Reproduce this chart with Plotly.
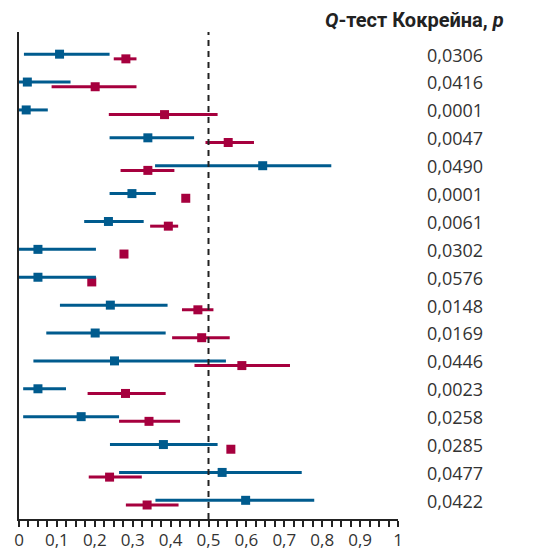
import plotly.graph_objects as go

# ---- data ----
p_values = ["0,0306", "0,0416", "0,0001", "0,0047", "0,0490", "0,0001", "0,0061", "0,0302",
            "0,0576", "0,0148", "0,0169", "0,0446", "0,0023", "0,0258", "0,0285", "0,0477", "0,0422"]

blue_mid = [0.107, 0.022, 0.019, 0.340, 0.643, 0.298, 0.236, 0.050, 0.050, 0.241, 0.201, 0.252, 0.050, 0.164, 0.381, 0.536, 0.598]
blue_lo  = [0.013, 0.000, 0.000, 0.239, 0.359, 0.239, 0.172, 0.000, 0.000, 0.108, 0.072, 0.038, 0.011, 0.011, 0.240, 0.264, 0.360]
blue_hi  = [0.239, 0.136, 0.076, 0.462, 0.824, 0.361, 0.329, 0.203, 0.203, 0.392, 0.387, 0.546, 0.124, 0.264, 0.524, 0.746, 0.779]

red_mid = [0.282, 0.201, 0.384, 0.552, 0.340, 0.440, 0.394, 0.277, 0.192, 0.472, 0.482, 0.588, 0.281, 0.343, 0.559, 0.239, 0.338]
red_lo  = [0.250, 0.086, 0.237, 0.492, 0.268, 0.440, 0.346, 0.277, 0.192, 0.430, 0.404, 0.463, 0.181, 0.264, 0.559, 0.184, 0.282]
red_hi  = [0.310, 0.310, 0.524, 0.620, 0.410, 0.440, 0.420, 0.277, 0.192, 0.513, 0.556, 0.715, 0.387, 0.425, 0.559, 0.324, 0.421]

tick_vals = [0, 0.1, 0.2, 0.3, 0.4, 0.5, 0.6, 0.7, 0.8, 0.9, 1]
tick_text = ["0", "0,1", "0,2", "0,3", "0,4", "0,5", "0,6", "0,7", "0,8", "0,9", "1"]
threshold = 0.5
title_text = "<b><i>Q</i>-тест Кокрейна, <i>p</i></b>"

BLUE = "#005b8e"
RED = "#a6003e"
OFF = 0.084

rows = list(range(len(p_values)))

fig = go.Figure()

def add_series(mid, lo, hi, color, dy):
    fig.add_trace(go.Scatter(
        x=mid,
        y=[r + dy for r in rows],
        mode="markers",
        marker=dict(symbol="square", size=9, color=color),
        error_x=dict(type="data", symmetric=False,
                     array=[h - m for h, m in zip(hi, mid)],
                     arrayminus=[m - l for m, l in zip(mid, lo)],
                     color=color, thickness=3, width=0),
        showlegend=False, hoverinfo="skip",
    ))

add_series(red_mid, red_lo, red_hi, RED, OFF)
add_series(blue_mid, blue_lo, blue_hi, BLUE, -OFF)

fig.add_shape(type="line", xref="x", yref="paper", x0=threshold, x1=threshold, y0=0, y1=1,
              line=dict(color="#222222", width=2, dash="6px,5px"))

for r, p in zip(rows, p_values):
    fig.add_annotation(x=1.071, y=r - 0.07, xref="paper", yref="y", text=p, showarrow=False,
                       xanchor="left", yanchor="middle",
                       font=dict(family="Open Sans", size=18, color="#333333"))

fig.add_annotation(x=1.285, y=1.0, xref="paper", yref="paper", yshift=12, text=title_text,
                   showarrow=False, xanchor="right", yanchor="middle",
                   font=dict(family="Roboto", size=20, color="#222222"))

fig.update_layout(
    width=525, height=542,
    margin=dict(l=10.5, r=135, t=24, b=31, autoexpand=False),
    paper_bgcolor="white", plot_bgcolor="white",
    xaxis=dict(range=[0, 1], tickvals=tick_vals, ticktext=tick_text, automargin=False,
               showgrid=False, zeroline=False, showline=True, linecolor="#222222", linewidth=2,
               ticks="outside", ticklen=6, tickwidth=1.5, tickcolor="#222222",
               minor=dict(dtick=0.025, ticks="outside", ticklen=6, tickwidth=1.5, tickcolor="#222222", showgrid=False),
               tickfont=dict(family="Open Sans", size=17, color="#333333"),
               ticklabelstandoff=-1),
    yaxis=dict(range=[16.586, -0.879], showgrid=False, zeroline=False, showticklabels=False,
               automargin=False,
               showline=True, linecolor="#222222", linewidth=2, ticks=""),
)

fig.write_html("out.html")
